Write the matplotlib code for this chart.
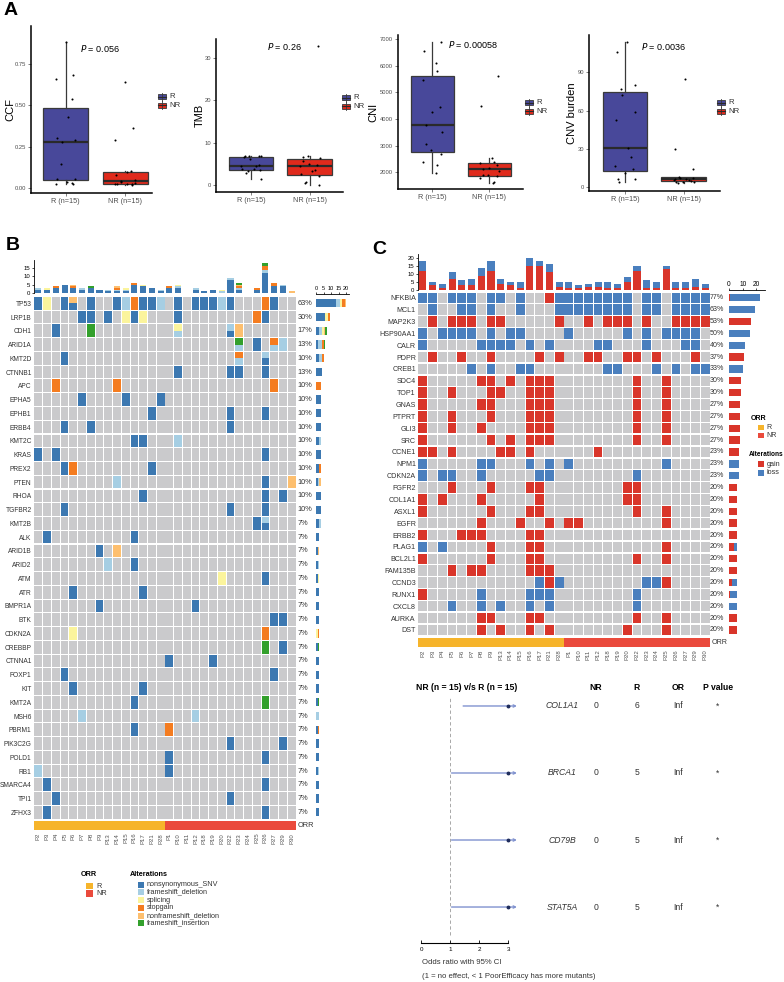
import numpy as np
import matplotlib
matplotlib.use("Agg")
import matplotlib.pyplot as plt
from matplotlib.patches import Rectangle

plt.rcParams['font.family'] = ['Liberation Sans', 'DejaVu Sans']

W, H = 784, 982
fig = plt.figure(figsize=(W / 100, H / 100), dpi=100)


def add_ax(x0, y0, x1, y1):
    return fig.add_axes([x0 / W, 1 - y1 / H, (x1 - x0) / W, (y1 - y0) / H])

# ------------------------------------------------------------------ data A
groups = ["R (n=15)", "NR (n=15)"]
ccf_R = [0.885, 0.685, 0.66, 0.54, 0.43, 0.30, 0.29, 0.275, 0.145, 0.055, 0.055, 0.035, 0.03, 0.025, 0.02]
ccf_NR = [0.64, 0.365, 0.29, 0.10, 0.095, 0.075, 0.045, 0.04, 0.035, 0.03, 0.025, 0.025, 0.02, 0.02, 0.015]
tmb_R = [6.8, 6.8, 6.7, 6.7, 6.6, 6.0, 4.6, 4.5, 4.4, 3.8, 3.6, 3.5, 3.2, 2.7, 1.4]
tmb_NR = [33.0, 6.8, 6.6, 6.3, 5.7, 5.0, 4.6, 4.5, 3.5, 3.3, 2.5, 2.0, 0.6, 0.3, 0.0]
cni_R = [6900, 6550, 6090, 5790, 5450, 4440, 4270, 3760, 3500, 3060, 2835, 2700, 2400, 2290, 1960]
cni_NR = [5600, 4480, 2550, 2380, 2350, 2290, 2150, 2120, 2050, 1900, 1900, 1850, 1790, 1650, 1600]
cnv_R = [114, 106, 80, 77, 72, 59, 53, 31, 24, 17, 14, 11, 6.5, 6.5, 4.5]
cnv_NR = [85, 30, 14.5, 8, 7.5, 7, 6.5, 6.3, 6, 5.5, 5, 4.5, 4.5, 4, 3.5]
pvals = ["0.056", "0.26", "0.00058", "0.0036"]
ylabels_A = ["CCF", "TMB", "CNI", "CNV burden"]

# ------------------------------------------------------------------ data B
B_samples = ["P2", "P3", "P4", "P5", "P6", "P7", "P8", "P9", "P13", "P14", "P15", "P16", "P17", "P21", "P28",
             "P1", "P10", "P11", "P12", "P18", "P19", "P20", "P22", "P23", "P24", "P25", "P26", "P27", "P29", "P30"]
B_orr = ["R"] * 15 + ["NR"] * 15
B_genes = ["TP53", "LRP1B", "CDH1", "ARID1A", "KMT2D", "CTNNB1", "APC", "EPHA5", "EPHB1", "ERBB4", "KMT2C",
           "KRAS", "PREX2", "PTEN", "RHOA", "TGFBR2", "KMT2B", "ALK", "ARID1B", "ARID2", "ATM", "ATR", "BMPR1A",
           "BTK", "CDKN2A", "CREBBP", "CTNNA1", "FOXP1", "KIT", "KMT2A", "MSH6", "PBRM1", "PIK3C2G", "POLD1",
           "RB1", "SMARCA4", "TPI1", "ZFHX3"]
B_muts = {
    "TP53": "0N 1S 3N 4D/N 6N 9N 10F 11G 12N 13N 14F 16N 18N 19N 20N 21F 22N 26G 27N",
    "LRP1B": "5N 6N 8N 10S 11N 12S 16N 25G 26N",
    "CDH1": "2N 6I 16S/F 22F/N 23D",
    "ARID1A": "23I/F 25N 27G/F 28F",
    "KMT2D": "3N 23G/F 26F/N",
    "CTNNB1": "16N 22N 23N 26N",
    "APC": "2G 9G 27G",
    "EPHA5": "5N 10N 14N",
    "EPHB1": "13N 22N 26N",
    "ERBB4": "3N 6N 22N",
    "KMT2C": "11N 12N 16F",
    "KRAS": "0N 2N 26N",
    "PREX2": "3N 4G 13N",
    "PTEN": "9F 26N 29D",
    "RHOA": "12N 26N 28N",
    "TGFBR2": "3N 22N 26N",
    "KMT2B": "25N 26F/N",
    "ALK": "1N 11N",
    "ARID1B": "7N 9D",
    "ARID2": "8F 11N",
    "ATM": "21S 26N",
    "ATR": "4N 12N",
    "BMPR1A": "7N 18N",
    "BTK": "27N 28N",
    "CDKN2A": "4S 26G",
    "CREBBP": "26I 28N",
    "CTNNA1": "15N 20N",
    "FOXP1": "3N 27N",
    "KIT": "4N 12N",
    "KMT2A": "11N 26I",
    "MSH6": "5F 18F",
    "PBRM1": "11N 15G",
    "PIK3C2G": "22N 28N",
    "POLD1": "15N 26N",
    "RB1": "0F 15N",
    "SMARCA4": "1N 26N",
    "TPI1": "2N 22N",
    "ZFHX3": "1N 26N",
}
B_types = ["N", "F", "S", "G", "D", "I"]
B_type_labels = ["nonsynonymous_SNV", "frameshift_deletion", "splicing", "stopgain",
                 "nonframeshift_deletion", "frameshift_insertion"]
B_top = {
    "N": [2, 2, 3, 5, 3, 2, 3, 2, 1, 1, 1, 5, 4, 3, 1, 3, 3, 0, 2, 1, 2, 0, 8, 2, 0, 2, 12, 4, 4, 0],
    "F": [1, 0, 0, 0, 0, 1, 0, 0, 1, 1, 1, 0, 0, 0, 1, 0, 1, 0, 1, 0, 0, 1, 1, 1, 0, 0, 2, 0, 1, 0],
    "S": [0, 1, 0, 0, 0, 0, 0, 0, 0, 0, 1, 0, 1, 0, 0, 0, 1, 0, 0, 0, 0, 1, 0, 0, 0, 0, 0, 0, 0, 0],
    "G": [0, 0, 1, 0, 1, 0, 0, 0, 0, 1, 0, 1, 0, 0, 0, 1, 0, 0, 0, 0, 0, 0, 0, 1, 0, 1, 2, 2, 0, 0],
    "D": [0, 0, 0, 0, 1, 0, 0, 0, 0, 1, 0, 0, 0, 0, 0, 0, 0, 0, 0, 0, 0, 0, 0, 1, 0, 0, 0, 0, 0, 1],
    "I": [0, 0, 0, 0, 0, 0, 1, 0, 0, 0, 0, 0, 0, 0, 0, 0, 0, 0, 0, 0, 0, 0, 0, 1, 0, 0, 2, 0, 0, 0],
}

# ------------------------------------------------------------------ data C
C_genes = ["NFKBIA", "MCL1", "MAP2K3", "HSP90AA1", "CALR", "PDPR", "CREB1", "SDC4", "TOP1", "GNAS", "PTPRT",
           "GLI3", "SRC", "CCNE1", "NPM1", "CDKN2A", "FGFR2", "COL1A1", "ASXL1", "EGFR", "ERBB2", "PLAG1",
           "BCL2L1", "FAM135B", "CCND3", "RUNX1", "CXCL8", "AURKA", "DST"]
C_cnv = {
    "NFKBIA": "L:0,1,3,4,5,7,8,10,14,15,16,17,18,19,20,21,23,24,26,27,28,29 G:13",
    "MCL1": "L:1,4,5,7,10,14,15,16,17,18,19,20,21,23,24,26,27,28,29",
    "MAP2K3": "G:1,3,4,5,7,8,14,17,19,20,21,23,26,27,28,29",
    "HSP90AA1": "L:0,2,3,4,5,7,9,10,15,21,23,25,26,27,28",
    "CALR": "L:0,6,7,8,9,11,13,18,19,23,27,28",
    "PDPR": "G:1,4,7,12,14,17,18,21,22,24,28",
    "CREB1": "L:5,7,10,11,19,20,24,26,28,29",
    "SDC4": "G:0,6,7,9,11,12,13,22,25",
    "TOP1": "G:0,3,7,8,11,12,13,22,25",
    "GNAS": "G:0,6,7,11,12,13,22,25",
    "PTPRT": "G:0,3,7,11,12,13,22,25",
    "GLI3": "G:0,3,6,11,12,13,22,25",
    "SRC": "G:0,7,9,11,12,13,22,25",
    "CCNE1": "G:0,1,3,8,9,11,18",
    "NPM1": "L:0,6,7,11,13,15,25",
    "CDKN2A": "L:0,2,3,6,12,13,22",
    "FGFR2": "G:3,7,11,12,21,22",
    "COL1A1": "G:0,2,6,12,21,22",
    "ASXL1": "G:0,7,11,12,22,25",
    "EGFR": "G:6,10,13,15,16,25",
    "ERBB2": "G:0,4,5,6,11,12",
    "PLAG1": "L:0,2 G:7,11,12,25",
    "BCL2L1": "G:0,7,11,12,22,25",
    "FAM135B": "G:3,5,6,11,12,13",
    "CCND3": "L:12,14,23,24 G:13,25",
    "RUNX1": "G:0 L:6,11,12,13,22",
    "CXCL8": "L:3,6,8,11,13,22",
    "AURKA": "G:6,7,11,12,22,25",
    "DST": "G:6,8,11,13,21,25",
}
C_top_gain = [12, 3, 1, 7, 3, 3, 9, 12, 4, 3, 1, 15, 15, 11, 2, 1, 1, 2, 2, 1, 1, 5, 12, 1, 1, 13, 1, 1, 2, 1]
C_top_loss = [6, 2, 3, 4, 3, 4, 5, 6, 3, 2, 4, 5, 3, 5, 3, 4, 2, 2, 3, 4, 3, 3, 3, 5, 4, 2, 4, 4, 5, 3]

# ------------------------------------------------------------------ data forest
forest_genes = ["COL1A1", "BRCA1", "CD79B", "STAT5A"]
forest_NR = [0, 0, 0, 0]
forest_R = [6, 5, 5, 5]
forest_OR = ["Inf", "Inf", "Inf", "Inf"]
forest_p = ["*", "*", "*", "*"]
forest_ci_low = [1.45, 1.05, 1.05, 1.05]
forest_est = [3.0, 3.0, 3.0, 3.0]

# ------------------------------------------------------------------ colors
COL_R = "#48489A"
COL_NR = "#E02A1C"
B_colors = {"N": "#3C78B1", "F": "#A6CEE3", "S": "#FBF49C", "G": "#F47C20", "D": "#FDBF6F", "I": "#33A02C"}
GRAY = "#CACACC"
ORR_COL = {"R": "#F6B42B", "NR": "#EA4A3C"}
C_colors = {"G": "#D9352A", "L": "#4A7FBE"}
TXT = "#333333"

# ================================================================== Panel A
A_layout = [
    (31, 26, 152, 193, (0.415, 2.45), (-0.032, 0.983), [0, 0.25, 0.5, 0.75],
     ["0.00", "0.25", "0.50", "0.75"], 158, 93, 80, 49, 5),
    (216, 39, 343, 192, (0.405, 2.57), (-1.76, 34.6), [0, 10, 20, 30],
     ["0", "10", "20", "30"], 342, 94, 267, 47, 195),
    (398, 35, 523, 189, (0.394, 2.59), (1379, 7151), [2000, 3000, 4000, 5000, 6000, 7000],
     ["2000", "3000", "4000", "5000", "6000", "7000"], 525, 99, 448, 45, 368),
    (589, 35, 720, 191, (0.381, 2.62), (-2.9, 119.3), [0, 30, 60, 90],
     ["0", "30", "60", "90"], 717, 99, 641, 46, 567),
]
A_data = [(ccf_R, ccf_NR), (tmb_R, tmb_NR), (cni_R, cni_NR), (cnv_R, cnv_NR)]

legend_specs_A = []
for k, (lay, dat) in enumerate(zip(A_layout, A_data)):
    x0, y0, x1, y1, xl, yl, yt, ytl, lx, ly, px, py, ylx = lay
    ax = add_ax(x0, y0, x1, y1)
    bp = ax.boxplot([dat[0], dat[1]], positions=[1, 2], widths=0.76, patch_artist=True,
                    showfliers=False, whis=1.5,
                    medianprops=dict(color="#2a2a2a", linewidth=1.6),
                    boxprops=dict(edgecolor="#3a3a3a", linewidth=0.9),
                    whiskerprops=dict(color="#3a3a3a", linewidth=0.9),
                    capprops=dict(linewidth=0))
    for patch, c in zip(bp['boxes'], [COL_R, COL_NR]):
        patch.set_facecolor(c)
    for gi, vals in enumerate(dat):
        n = len(vals)
        off = 0.17 * np.sin(np.arange(n) * 2.3 + k)
        ax.scatter(gi + 1 + off, vals, s=2.2, color="black", zorder=3, linewidths=0)
    ax.set_xlim(*xl)
    ax.set_ylim(*yl)
    ax.set_yticks(yt)
    ax.set_yticklabels(ytl)
    ax.set_xticks([1, 2])
    ax.set_xticklabels(groups)
    ax.tick_params(axis='y', labelsize=4.2)
    ax.tick_params(axis='x', labelsize=5.2)
    ax.tick_params(axis='both', length=2, width=0.5, pad=1.5, colors="#4d4d4d")
    for s in ["top", "right"]:
        ax.spines[s].set_visible(False)
    for s in ["left", "bottom"]:
        ax.spines[s].set_linewidth(1.1)
    fig.text(ylx / W, 1 - ((y0 + y1) / 2) / H, ylabels_A[k], rotation=90, fontsize=8,
             ha="left", va="center")
    fig.text(px / W, 1 - py / H, r"$\it{P}$ = " + pvals[k], fontsize=6.5, ha="left", va="center")
    legend_specs_A.append((lx, ly))

# ================================================================== Panel B
nB = len(B_samples)
bx0, bx1 = 34, 296
by0, by1 = 296.4, 819.2
axt = add_ax(bx0, 260, bx1, 293)
bottom = np.zeros(nB)
for t in B_types:
    v = np.array(B_top[t])
    axt.bar(np.arange(nB), v, bottom=bottom, width=0.7, color=B_colors[t], linewidth=0)
    bottom += v
axt.set_xlim(-0.5, nB - 0.5)
axt.set_ylim(0, 19.8)
axt.set_yticks([0, 5, 10, 15])
axt.set_yticklabels(["0", "5", "10", "15"])
axt.tick_params(axis='y', length=1.5, width=0.5, pad=1, labelsize=4.3)
axt.set_xticks([])
for s in ["top", "right", "bottom"]:
    axt.spines[s].set_visible(False)
axt.spines["left"].set_linewidth(0.6)

axg = add_ax(bx0, by0, bx1, by1)
side_counts = {t: np.zeros(len(B_genes)) for t in B_types}
pct_B = []
for i, g in enumerate(B_genes):
    muts = {}
    for tok in B_muts[g].split():
        j = int("".join(ch for ch in tok if ch.isdigit()))
        codes = "".join(ch for ch in tok if not ch.isdigit()).split("/")
        muts[j] = codes
    pct_B.append(round(100 * len(muts) / nB))
    for j in range(nB):
        axg.add_patch(Rectangle((j - 0.45, i - 0.46), 0.9, 0.92, facecolor=GRAY, edgecolor="none"))
        if j in muts:
            codes = muts[j]
            if len(codes) == 1:
                axg.add_patch(Rectangle((j - 0.45, i - 0.46), 0.9, 0.92,
                                        facecolor=B_colors[codes[0]], edgecolor="none"))
            else:
                axg.add_patch(Rectangle((j - 0.45, i - 0.46), 0.9, 0.46,
                                        facecolor=B_colors[codes[0]], edgecolor="none"))
                axg.add_patch(Rectangle((j - 0.45, i), 0.9, 0.46,
                                        facecolor=B_colors[codes[1]], edgecolor="none"))
            for c in codes:
                side_counts[c][i] += 1
axg.set_xlim(-0.5, nB - 0.5)
axg.set_ylim(len(B_genes) - 0.5, -0.5)
axg.set_yticks(range(len(B_genes)))
axg.set_yticklabels(B_genes)
axg.tick_params(axis='y', length=0, pad=1.8, labelsize=4.8, labelcolor=TXT)
axg.set_xticks([])
for s in axg.spines.values():
    s.set_visible(False)
for i, p in enumerate(pct_B):
    axg.text(nB - 0.3, i, f"{p}%", fontsize=5.3, va="center", ha="left", color=TXT)

axo = add_ax(bx0, 821, bx1, 830)
axo.bar(np.arange(nB), np.ones(nB), width=1.0, color=[ORR_COL[o] for o in B_orr], linewidth=0)
axo.set_xlim(-0.5, nB - 0.5)
axo.set_ylim(0, 1)
axo.set_yticks([])
axo.set_xticks(range(nB))
axo.set_xticklabels(B_samples, rotation=90)
axo.tick_params(axis='x', length=0, pad=2, labelsize=4.3, labelcolor="#555555")
for s in axo.spines.values():
    s.set_visible(False)
axo.text(nB - 0.3, 0.5, "ORR", fontsize=5.3, va="center", ha="left", color=TXT)

axs = add_ax(316, by0, 349, by1)
left = np.zeros(len(B_genes))
for t in B_types:
    axs.barh(range(len(B_genes)), side_counts[t], left=left, height=0.6, color=B_colors[t], linewidth=0)
    left += side_counts[t]
axs.set_ylim(len(B_genes) - 0.5, -0.5)
axs.set_xlim(0, 22)
axs.set_yticks([])
axs.xaxis.tick_top()
axs.set_xticks([0, 5, 10, 15, 20])
axs.set_xticklabels(["0", "5", "10", "15", "20"])
axs.tick_params(axis='x', length=1.5, width=0.5, pad=0.5, labelsize=4.0, labeltop=True, labelbottom=False)
for s in ["bottom", "right", "left"]:
    axs.spines[s].set_visible(False)
axs.spines["top"].set_position(("outward", 2))
axs.spines["top"].set_linewidth(0.6)

# ================================================================== Panel C
cx0, cx1 = 418, 710
cy0, cy1 = 291.8, 635.9
nC = nB
axct = add_ax(cx0, 254, cx1, 290)
axct.bar(np.arange(nC), C_top_gain, width=0.72, color=C_colors["G"], linewidth=0)
axct.bar(np.arange(nC), C_top_loss, bottom=C_top_gain, width=0.72, color=C_colors["L"], linewidth=0)
axct.set_xlim(-0.5, nC - 0.5)
axct.set_ylim(0, 22.5)
axct.set_yticks([0, 5, 10, 15, 20])
axct.set_yticklabels(["0", "5", "10", "15", "20"])
axct.tick_params(axis='y', length=1.5, width=0.5, pad=1, labelsize=4.3)
axct.set_xticks([])
for s in ["top", "right", "bottom"]:
    axct.spines[s].set_visible(False)
axct.spines["left"].set_linewidth(0.6)

axcg = add_ax(cx0, cy0, cx1, cy1)
c_gain = np.zeros(len(C_genes))
c_loss = np.zeros(len(C_genes))
pct_C = []
for i, g in enumerate(C_genes):
    cells = {}
    for part in C_cnv[g].split():
        code, cols = part.split(":")
        for c in cols.split(","):
            cells[int(c)] = code
    pct_C.append(round(100 * len(cells) / nC))
    for j in range(nC):
        col = C_colors[cells[j]] if j in cells else GRAY
        axcg.add_patch(Rectangle((j - 0.45, i - 0.44), 0.9, 0.88, facecolor=col, edgecolor="none"))
        if j in cells:
            if cells[j] == "G":
                c_gain[i] += 1
            else:
                c_loss[i] += 1
axcg.set_xlim(-0.5, nC - 0.5)
axcg.set_ylim(len(C_genes) - 0.5, -0.5)
axcg.set_yticks(range(len(C_genes)))
axcg.set_yticklabels(C_genes)
axcg.tick_params(axis='y', length=0, pad=1.5, labelsize=5.1, labelcolor=TXT)
axcg.set_xticks([])
for s in axcg.spines.values():
    s.set_visible(False)
for i, p in enumerate(pct_C):
    axcg.text(nC - 0.5, i, f"{p}%", fontsize=5.1, va="center", ha="left", color=TXT)

axco = add_ax(cx0, 637.5, cx1, 646.5)
axco.bar(np.arange(nC), np.ones(nC), width=1.0, color=[ORR_COL[o] for o in B_orr], linewidth=0)
axco.set_xlim(-0.5, nC - 0.5)
axco.set_ylim(0, 1)
axco.set_yticks([])
axco.set_xticks(range(nC))
axco.set_xticklabels(B_samples, rotation=90)
axco.tick_params(axis='x', length=0, pad=2, labelsize=4.3, labelcolor="#555555")
for s in axco.spines.values():
    s.set_visible(False)
axco.text(nC - 0.3, 0.5, "ORR", fontsize=5.1, va="center", ha="left", color=TXT)

axcs = add_ax(729, cy0, 765, cy1)
axcs.barh(range(len(C_genes)), c_gain, height=0.62, color=C_colors["G"], linewidth=0)
axcs.barh(range(len(C_genes)), c_loss, left=c_gain, height=0.62, color=C_colors["L"], linewidth=0)
axcs.set_ylim(len(C_genes) - 0.5, -0.5)
axcs.set_xlim(0, 26.3)
axcs.set_yticks([])
axcs.xaxis.tick_top()
axcs.set_xticks([0, 10, 20])
axcs.set_xticklabels(["0", "10", "20"])
axcs.tick_params(axis='x', length=1.5, width=0.5, pad=0.5, labelsize=4.8, labeltop=True, labelbottom=False)
for s in ["bottom", "right", "left"]:
    axcs.spines[s].set_visible(False)
axcs.spines["top"].set_position(("outward", 1))
axcs.spines["top"].set_linewidth(0.6)

# ================================================================== Forest plot
axf = add_ax(421, 695, 521, 943)
xmax_f = 3.44
axf.set_xlim(0, xmax_f)
axf.set_ylim(3.537, -0.164)
for i in range(len(forest_genes)):
    axf.annotate("", xy=(3.3, i), xytext=(forest_ci_low[i], i),
                 arrowprops=dict(arrowstyle="->", color="#8092CF", lw=1.0,
                                 mutation_scale=4, shrinkA=0, shrinkB=0))
    axf.plot([forest_est[i]], [i], "o", color="#1F2D5C", markersize=1.8, zorder=4)
axf.axvline(1, ymin=0.032, ymax=0.99, color="#9a9a9a", lw=0.6, ls=(0, (4, 3)))
axf.set_xticks([0, 1, 2, 3])
axf.set_xticklabels(["0", "1", "2", "3"])
axf.tick_params(axis='x', direction='in', length=2.5, width=0.6, pad=3, labelsize=4.5)
axf.set_yticks([])
for s in ["top", "right", "left"]:
    axf.spines[s].set_visible(False)
axf.spines["bottom"].set_linewidth(0.8)
axf.spines["bottom"].set_bounds(0, 3)

col_x = {"gene": 562, "NR": 596, "R": 637, "OR": 678, "P": 718}


def px2x(p):
    return (p - 421) / 100 * xmax_f


hdr_y = -0.27
axf.text(px2x(467), hdr_y, "NR (n = 15) v/s R (n = 15)", fontsize=6.2, fontweight="bold",
         ha="center", va="center", clip_on=False)
for key, lab in [("NR", "NR"), ("R", "R"), ("OR", "OR"), ("P", "P value")]:
    axf.text(px2x(col_x[key]), hdr_y, lab, fontsize=6.2, fontweight="bold", ha="center",
             va="center", clip_on=False)
for i in range(len(forest_genes)):
    axf.text(px2x(col_x["gene"]), i, forest_genes[i], fontsize=6.2, style="italic", ha="center",
             va="center", color=TXT, clip_on=False)
    axf.text(px2x(col_x["NR"]), i, str(forest_NR[i]), fontsize=6.2, ha="center", va="center",
             color=TXT, clip_on=False)
    axf.text(px2x(col_x["R"]), i, str(forest_R[i]), fontsize=6.2, ha="center", va="center",
             color=TXT, clip_on=False)
    axf.text(px2x(col_x["OR"]), i, forest_OR[i], fontsize=6.2, ha="center", va="center",
             color=TXT, clip_on=False)
    axf.text(px2x(col_x["P"]), i, forest_p[i], fontsize=6.2, ha="center", va="center",
             color=TXT, clip_on=False)

# ================================================================== overlay (letters, legends)
ov = fig.add_axes([0, 0, 1, 1])
ov.set_xlim(0, W)
ov.set_ylim(H, 0)
ov.axis("off")
ov.text(4, 10, "A", fontsize=14, fontweight="bold", va="center", ha="left")
ov.text(6, 245, "B", fontsize=14, fontweight="bold", va="center", ha="left")
ov.text(372, 249, "C", fontsize=14, fontweight="bold", va="center", ha="left")
ov.text(422, 963, "Odds ratio with 95% CI", fontsize=5.6, va="center", ha="left", color=TXT)
ov.text(422, 977, "(1 = no effect, < 1 PoorEfficacy has more mutants)", fontsize=5.6, va="center",
        ha="left", color=TXT)

for lx, ly in legend_specs_A:
    for r, (lab, c) in enumerate([("R", COL_R), ("NR", COL_NR)]):
        yy = ly + r * 8.5
        ov.plot([lx + 4.2, lx + 4.2], [yy - 0.5, yy + 7.5], color="#3a3a3a", lw=0.6)
        ov.add_patch(Rectangle((lx, yy + 1), 8.4, 5.2, facecolor=c, edgecolor="#3a3a3a", lw=0.6))
        ov.plot([lx, lx + 8.4], [yy + 3.6, yy + 3.6], color="#2a2a2a", lw=0.8)
        ov.text(lx + 11.5, yy + 3.6, lab, fontsize=5.6, va="center", ha="left", color="#333333")

ov.text(81, 874, "ORR", fontsize=5.2, fontweight="bold", va="center", ha="left")
for r, (lab, key) in enumerate([("R", "R"), ("NR", "NR")]):
    ov.add_patch(Rectangle((86, 882.5 + r * 7.8), 7, 6.5, facecolor=ORR_COL[key], edgecolor="none"))
    ov.text(96, 886 + r * 7.8, lab, fontsize=5.2, va="center", ha="left", color=TXT)
ov.text(130, 874, "Alterations", fontsize=5.2, fontweight="bold", va="center", ha="left")
for r, t in enumerate(B_types):
    ov.add_patch(Rectangle((138, 881.5 + r * 7.75), 6, 6, facecolor=B_colors[t], edgecolor="none"))
    ov.text(147, 884.5 + r * 7.75, B_type_labels[r], fontsize=5.2, va="center",
            ha="left", color=TXT)

ov.text(751, 418, "ORR", fontsize=5.0, fontweight="bold", va="center", ha="left")
for r, (lab, key) in enumerate([("R", "R"), ("NR", "NR")]):
    ov.add_patch(Rectangle((758.5, 424.5 + r * 8), 5.5, 5.5, facecolor=ORR_COL[key], edgecolor="none"))
    ov.text(766.5, 427.3 + r * 8, lab, fontsize=5.0, va="center", ha="left", color=TXT)
ov.text(748.5, 454, "Alterations", fontsize=4.7, fontweight="bold", va="center", ha="left")
for r, (lab, key) in enumerate([("gain", "G"), ("loss", "L")]):
    ov.add_patch(Rectangle((758.5, 461 + r * 8.6), 5.5, 6, facecolor=C_colors[key], edgecolor="none"))
    ov.text(766.5, 464 + r * 8.6, lab, fontsize=5.2, va="center", ha="left", color=TXT)

fig.savefig("out.png", dpi=100)
